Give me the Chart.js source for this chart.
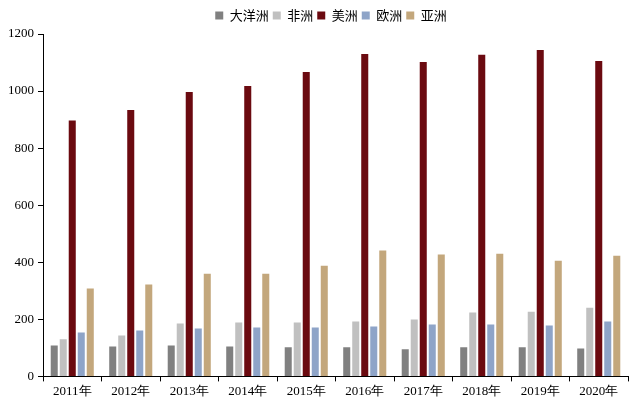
<!DOCTYPE html>
<html>
<head>
<meta charset="utf-8">
<script src="https://cdn.jsdelivr.net/npm/chart.js"></script>
<style>
  html, body { margin: 0; padding: 0; background: #fff; }
  #wrap { width: 629px; height: 407px; }
</style>
</head>
<body>
<div id="wrap"><canvas id="bar-chart"></canvas></div>
<script>
    // 数据
    var years = ['2011年', '2012年', '2013年', '2014年', '2015年', '2016年', '2017年', '2018年', '2019年', '2020年'];
    var oceania = [108, 105, 108, 105, 102, 102, 95, 102, 102, 98];
    var africa = [130, 143, 185, 189, 189, 192, 199, 224, 227, 241];
    var americas = [897, 934, 997, 1018, 1067, 1130, 1102, 1127, 1144, 1105];
    var europe = [154, 161, 168, 171, 171, 175, 182, 182, 178, 192];
    var asia = [308, 322, 360, 360, 388, 441, 427, 430, 405, 423];
    var yTicks = [0, 200, 400, 600, 800, 1000, 1200];

    var serif = '"Liberation Serif", "Times New Roman", serif';
    var cjk = '"Noto Sans CJK SC", sans-serif';

    function series(label, values, color) {
        return {
            label: label,
            data: values,
            backgroundColor: color,
            borderWidth: 0,
            categoryPercentage: 0.77,
            barPercentage: 0.78
        };
    }

    var data = {
        labels: years,
        datasets: [
            series('大洋洲', oceania, '#808080'),
            series('非洲', africa, '#c0c0c0'),
            series('美洲', americas, '#6b0a10'),
            series('欧洲', europe, '#8ea4c8'),
            series('亚洲', asia, '#c3a77c')
        ]
    };

    // 图例位置微调
    var legendShift = {
        id: 'legendShift',
        afterLayout: function(chart) {
            chart.legend.left += 15;
            chart.legend.right += 15;
            chart.legend.top -= 2;
            chart.legend.bottom -= 2;
        }
    };

    var options = {
        responsive: true,
        maintainAspectRatio: false,
        animation: false,
        layout: { padding: { left: 4, right: 1, top: 7, bottom: 6 } },
        plugins: {
            legend: {
                position: 'top',
                labels: {
                    boxWidth: 8,
                    boxHeight: 8,
                    padding: 4,
                    color: '#000',
                    font: { family: cjk, size: 13 }
                }
            },
            tooltip: { enabled: false }
        },
        scales: {
            x: {
                grid: {
                    drawOnChartArea: false,
                    drawTicks: true,
                    tickLength: 5,
                    color: '#000',
                    offset: true
                },
                border: { color: '#000', width: 1 },
                ticks: {
                    color: '#000',
                    padding: 2,
                    maxRotation: 0,
                    font: { family: serif, size: 13 }
                }
            },
            y: {
                min: 0,
                max: 1200,
                afterBuildTicks: function(axis) {
                    axis.ticks = yTicks.map(function(v) { return { value: v }; });
                },
                grid: {
                    drawOnChartArea: false,
                    drawTicks: true,
                    tickLength: 5,
                    color: '#000'
                },
                border: { color: '#000', width: 1 },
                ticks: {
                    color: '#000',
                    padding: 4,
                    font: { family: serif, size: 13 },
                    callback: function(v) { return String(v); }
                }
            }
        }
    };

    var ctx = document.getElementById('bar-chart').getContext('2d');
    var myChart = new Chart(ctx, {
        type: 'bar',
        data: data,
        options: options,
        plugins: [legendShift]
    });
</script>
</body>
</html>
